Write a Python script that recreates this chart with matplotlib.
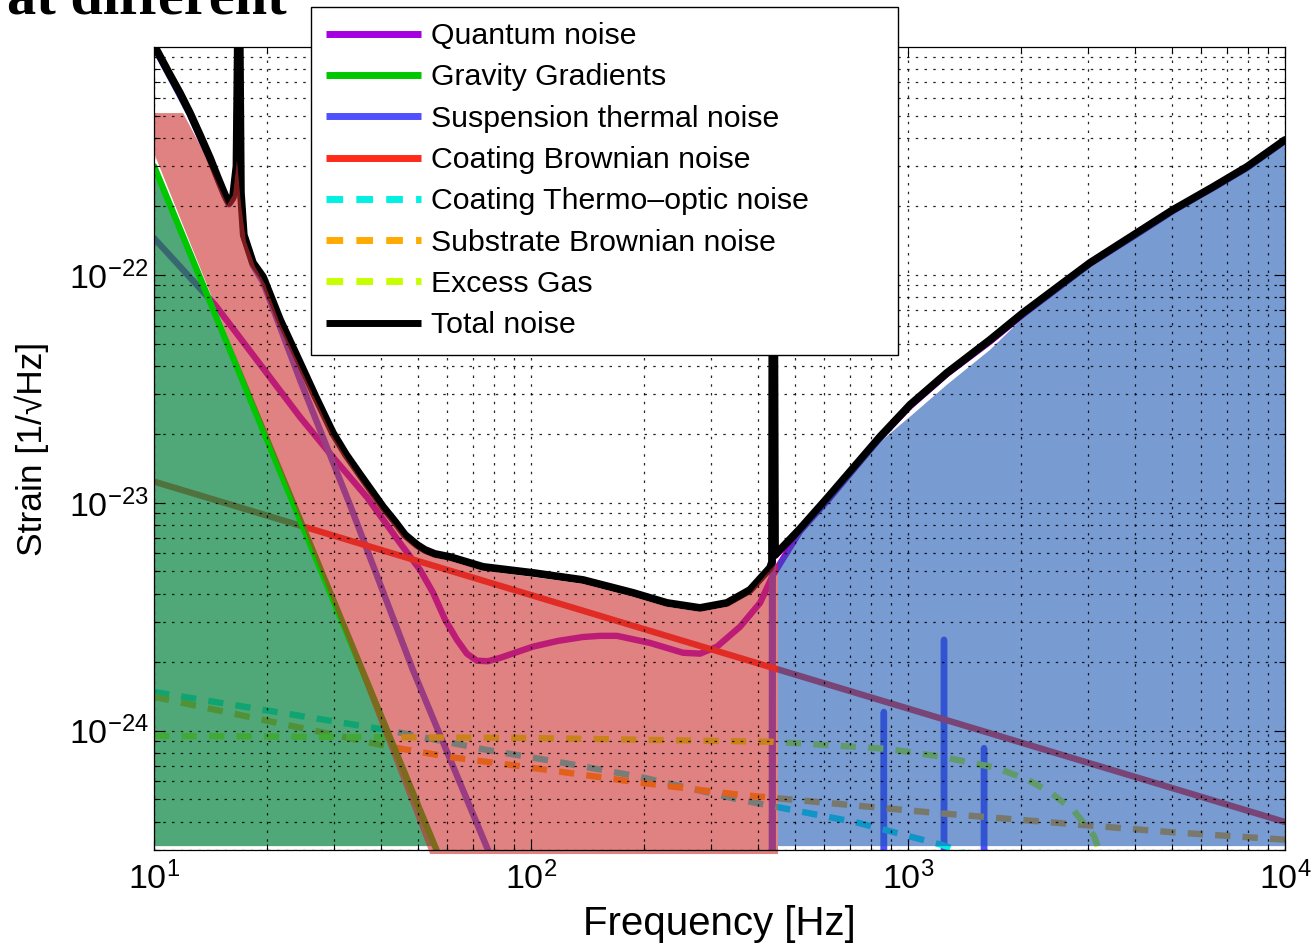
import matplotlib
matplotlib.use("Agg")
import matplotlib.pyplot as plt
from matplotlib.lines import Line2D
from matplotlib.ticker import LogLocator, NullFormatter

plt.rcParams['font.family'] = ['Liberation Sans', 'DejaVu Sans']
plt.rcParams['mathtext.fontset'] = 'custom'
plt.rcParams['mathtext.rm'] = 'Liberation Sans'
plt.rcParams['mathtext.it'] = 'Liberation Sans:italic'
plt.rcParams['mathtext.bf'] = 'Liberation Sans:bold'

# ---------------- data ----------------
labels = ["Quantum noise", "Gravity Gradients", "Suspension thermal noise",
          "Coating Brownian noise", "Coating Thermo\u2013optic noise",
          "Substrate Brownian noise", "Excess Gas", "Total noise"]

quantum_f = [10, 14.52, 24.4, 29.8, 36.7, 44.9, 50.8, 55.0, 59.2, 63.6, 67.6, 71.9,
             76.9, 82.8, 101.2, 117.9, 137.4, 152.4, 169.1, 206.8, 253, 280.7, 311.4,
             358.4, 405, 438.5, 517, 617, 843, 1012, 1269, 1650, 2018, 2577, 3040,
             4050, 5046, 6442, 7929, 10000]
quantum_s = [1.45e-22, 7.39e-23, 2.38e-23, 1.59e-23, 1.06e-23, 6.68e-24, 5.08e-24,
             4.03e-24, 3.07e-24, 2.51e-24, 2.18e-24, 2.03e-24, 2.02e-24, 2.09e-24,
             2.34e-24, 2.48e-24, 2.58e-24, 2.61e-24, 2.61e-24, 2.43e-24, 2.2e-24,
             2.18e-24, 2.34e-24, 2.86e-24, 3.64e-24, 4.83e-24, 7.5e-24, 1.04e-23,
             1.93e-23, 2.65e-23, 3.68e-23, 5.1e-23, 6.7e-23, 9.1e-23, 1.12e-22,
             1.51e-22, 1.91e-22, 2.41e-22, 2.95e-22, 3.88e-22]

gravity_f = [10, 60]
gravity_s = [3.0e-22, 2.3e-25]

susp_f = [10, 11.03, 12.46, 14.08, 15.43, 15.81, 16.2, 16.55, 16.8, 17.0, 17.3, 18.3,
          19.46, 21.6, 24.4, 33.1, 48.6, 76.9, 82.8, 200, 435.0, 436.5, 438.0,
          860, 863, 866, 1242, 1246, 1250, 1587, 1591, 1595, 10000]
susp_s = [1.0e-21, 7.4e-22, 5.05e-22, 3.2e-22, 2.2e-22, 2.04e-22, 2.16e-22, 2.95e-22,
          3e-21, 2.25e-22, 1.47e-22, 1.1e-22, 9.3e-23, 5.9e-23, 3.46e-23, 9.8e-24,
          1.85e-24, 3.0e-25, 2.2e-25, 1e-26, 1e-26, 3e-21, 1e-26,
          1e-26, 1.21e-24, 1e-26, 1e-26, 2.51e-24, 1e-26, 1e-26, 8.4e-25, 1e-26, 1e-26]

coating_f = [10, 10000]
coating_s = [1.24e-23, 3.98e-25]

cto_f = [10, 41.2, 75.9, 121.6, 194.5, 358, 728, 1230, 1600]
cto_s = [1.48e-24, 1.01e-24, 8.26e-25, 7.24e-25, 6.28e-25, 4.98e-25, 3.97e-25,
         3.16e-25, 2.7e-25]

substrate_f = [10, 42.3, 60.3, 96.4, 194.5, 358, 1172, 4900, 10000]
substrate_s = [1.41e-24, 8.51e-25, 7.69e-25, 6.95e-25, 5.92e-25, 5.24e-25,
               4.37e-25, 3.6e-25, 3.33e-25]

gas_f = [10, 100, 440, 879, 1230, 1710, 2080, 2394, 2754, 3114, 3436]
gas_s = [9.5e-25, 9.3e-25, 8.95e-25, 8.34e-25, 7.69e-25, 6.89e-25, 6.1e-25,
         5.35e-25, 4.46e-25, 3.46e-25, 2.2e-25]

total_f = [10, 11.03, 11.72, 12.46, 13.24, 14.08, 14.78, 15.43, 15.81, 16.2, 16.55,
           16.8, 17.0, 17.3, 18.3, 19.46, 21.6, 24.4, 26.9, 29.8, 32.3, 35.2, 40.5,
           43.6, 46.3, 49.8, 52.3, 55.6, 61.0, 74.6, 101.2, 137.4, 186.5, 229.5,
           280.7, 331, 381, 430.5, 435.8, 438.5, 443.9, 517, 617, 843, 1012, 1269,
           1650, 2018, 2577, 3040, 4050, 5046, 6442, 7929, 10000]
total_s = [1.02e-21, 7.53e-22, 6.28e-22, 5.13e-22, 4.11e-22, 3.26e-22, 2.66e-22,
           2.24e-22, 2.07e-22, 2.2e-22, 3.0e-22, 3e-21, 2.3e-22, 1.5e-22, 1.13e-22,
           9.8e-23, 6.35e-23, 4.11e-23, 2.89e-23, 2.03e-23, 1.63e-23, 1.33e-23,
           9.6e-24, 8.26e-24, 7.24e-24, 6.55e-24, 6.22e-24, 5.97e-24, 5.79e-24,
           5.24e-24, 4.93e-24, 4.59e-24, 4.03e-24, 3.64e-24, 3.46e-24, 3.64e-24,
           4.15e-24, 5.19e-24, 5.5e-24, 3e-21, 5.9e-24, 7.69e-24, 1.07e-23, 1.95e-23,
           2.69e-23, 3.72e-23, 5.19e-23, 6.81e-23, 9.22e-23, 1.13e-22, 1.53e-22,
           1.93e-22, 2.43e-22, 2.98e-22, 3.91e-22]

# shaded regions (outline vertices)
green_region_f = [10, 55.6, 10]
green_region_s = [3.0e-22, 3.12e-25, 3.12e-25]

red_region_f = [10, 11.94, 13.24, 14.52, 15.62, 16.2, 16.6, 17.02, 17.54, 18.53, 19.7,
                21.6, 24.4, 26.9, 29.8, 32.3, 35.2, 40.5, 43.6, 46.3, 49.8, 52.3,
                55.6, 61.0, 74.6, 101.2, 137.4, 186.5, 229.5, 280.7, 331, 381, 430.5,
                452, 452, 54.0, 22.95, 10]
red_region_s = [5.13e-22, 5.13e-22, 3.72e-22, 2.66e-22, 2.03e-22, 2.24e-22, 3.19e-22,
                2.03e-22, 1.4e-22, 1.09e-22, 9.13e-23, 6.1e-23, 3.94e-23, 2.8e-23,
                1.95e-23, 1.57e-23, 1.27e-23, 9.22e-24, 7.95e-24, 6.98e-24, 6.3e-24,
                6.0e-24, 5.75e-24, 5.57e-24, 5.04e-24, 4.73e-24, 4.41e-24, 3.87e-24,
                3.5e-24, 3.33e-24, 3.5e-24, 3.99e-24, 5.08e-24, 5.51e-24, 2.88e-25,
                2.88e-25, 1.12e-23, 3.43e-22]

blue_region_f = [452, 517, 617, 843, 1031, 1269, 1650, 2018, 2577, 3040, 4050, 5046,
                 6442, 7929, 10120, 10120, 452]
blue_region_s = [5.51e-24, 7.3e-24, 1.02e-23, 1.85e-23, 2.45e-23, 3.3e-23, 4.69e-23,
                 6.47e-23, 8.85e-23, 1.08e-22, 1.47e-22, 1.85e-22, 2.33e-22, 2.86e-22,
                 3.79e-22, 3.12e-25, 3.12e-25]

# ---------------- styles ----------------
c_quantum = '#a400e0'
c_gravity = '#00c800'
c_susp = '#5050ff'
c_coat = '#ff2a1a'
c_cto = '#00f0e4'
c_sub = '#ffaa00'
c_gas = '#c8ff00'
c_total = 'black'
dash = (0, (2.4, 1.9))
LW = 4.6

fig = plt.figure(figsize=(13.12, 9.43), dpi=100)
ax = fig.add_axes([154 / 1312, 1 - 850 / 943, 1131 / 1312, 803 / 943])
ax.set_xscale('log')
ax.set_yscale('log')
ax.set_xlim(10, 1e4)
ax.set_ylim(3e-25, 1e-21)

kw = dict(solid_joinstyle='round', solid_capstyle='round')
ax.plot(quantum_f, quantum_s, color=c_quantum, lw=LW, zorder=1.1, **kw)
ax.plot(susp_f, susp_s, color=c_susp, lw=LW, zorder=1.1, **kw)
ax.plot(coating_f, coating_s, color=c_coat, lw=LW, zorder=1.1, **kw)
ax.plot(cto_f, cto_s, color=c_cto, lw=LW, ls=dash, zorder=1.1)
ax.plot(substrate_f, substrate_s, color=c_sub, lw=LW, ls=dash, zorder=1.1)
ax.plot(gas_f, gas_s, color=c_gas, lw=LW, ls=dash, zorder=1.1)
ax.plot(total_f, total_s, color=c_total, lw=5.6, zorder=1.2, **kw)

ax.fill(green_region_f, green_region_s, color='#158b4b', alpha=0.75, lw=0, zorder=1.5)
ax.plot(gravity_f, gravity_s, color=c_gravity, lw=LW, zorder=1.6, **kw)
ax.fill(red_region_f, red_region_s, color='#cd2f2f', alpha=0.6, lw=0, zorder=1.7,
        clip_on=False)
ax.fill(blue_region_f, blue_region_s, color='#1e58b4', alpha=0.6, lw=0, zorder=1.8)

ax.set_axisbelow(False)
ax.grid(True, which='both', color='black', ls=(0, (2, 5)), lw=0.9, alpha=0.85)
ax.xaxis.set_minor_locator(LogLocator(base=10, subs=range(2, 10)))
ax.yaxis.set_minor_locator(LogLocator(base=10, subs=range(2, 10)))
ax.xaxis.set_minor_formatter(NullFormatter())
ax.yaxis.set_minor_formatter(NullFormatter())
ax.set_xticks([10, 100, 1000, 10000])
ax.set_yticks([1e-24, 1e-23, 1e-22])
ax.tick_params(which='both', direction='in', top=True, right=True, width=0.8)
ax.tick_params(which='major', length=7, labelsize=24.5)
ax.tick_params(which='minor', length=4)
ax.tick_params(axis='x', pad=8)
ax.tick_params(axis='y', pad=4)
for sp in ax.spines.values():
    sp.set_linewidth(0.9)

ax.set_xlabel('Frequency [Hz]', fontsize=29, labelpad=7)
ax.set_ylabel('Strain [1/\u221aHz]', fontsize=25.5, labelpad=14)

handles = [
    Line2D([], [], color=c_quantum, lw=5, solid_capstyle='butt'),
    Line2D([], [], color=c_gravity, lw=5, solid_capstyle='butt'),
    Line2D([], [], color=c_susp, lw=5, solid_capstyle='butt'),
    Line2D([], [], color=c_coat, lw=5, solid_capstyle='butt'),
    Line2D([], [], color=c_cto, lw=5, ls=dash),
    Line2D([], [], color=c_sub, lw=5, ls=dash),
    Line2D([], [], color=c_gas, lw=5, ls=dash),
    Line2D([], [], color=c_total, lw=5, solid_capstyle='butt'),
]
leg = ax.legend(handles, labels, loc='upper left',
                bbox_to_anchor=(311 / 1312, 1 - 352 / 943, 587 / 1312, 345 / 943),
                bbox_transform=fig.transFigure, mode='expand', borderaxespad=0,
                frameon=True, fancybox=False, edgecolor='black', framealpha=1,
                fontsize=21.8, handlelength=3.13, handletextpad=0.33,
                borderpad=0.5, labelspacing=0.44)
leg.get_frame().set_linewidth(1.0)
leg.set_zorder(5)

fig.text(7 / 1312, 1 - 13 / 943, 'at different', family=['Liberation Serif', 'DejaVu Serif'],
         fontweight='bold', fontsize=42, va='baseline', ha='left')

fig.savefig('out.png', dpi=100, facecolor='white')
